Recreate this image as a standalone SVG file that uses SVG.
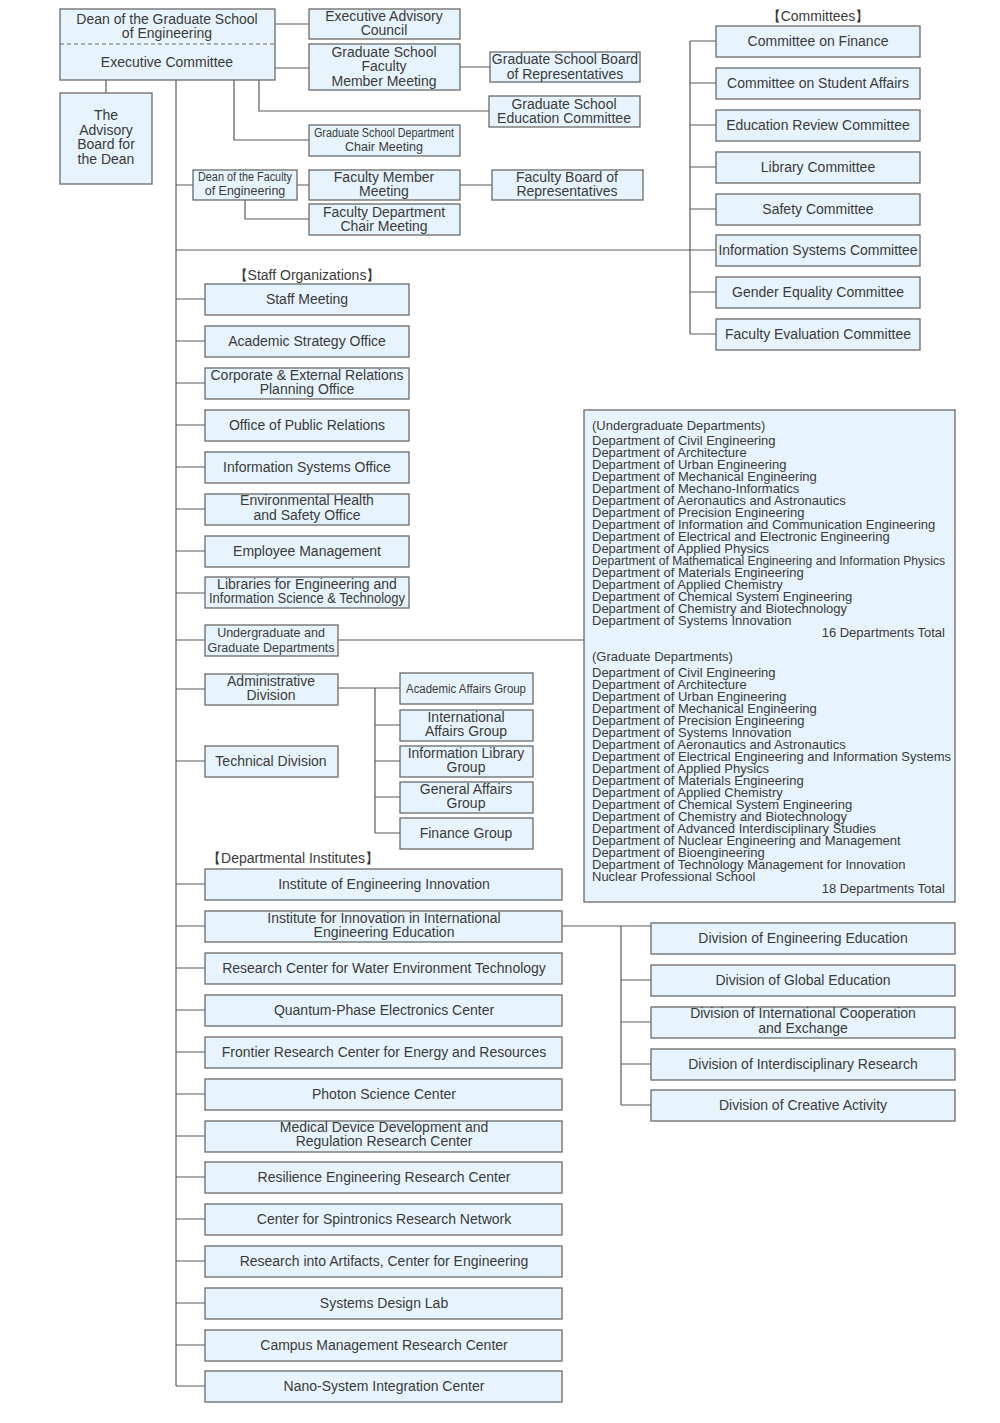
<svg xmlns="http://www.w3.org/2000/svg" width="1000" height="1423" viewBox="0 0 1000 1423">
<style>
.b{fill:#e7f4fd;stroke:#6a6a6a;stroke-width:1.3}
.t{font-family:"Liberation Sans",Arial,sans-serif;font-size:14px;fill:#3a3a3a;text-anchor:middle}
.s{font-size:12.5px}
.d{font-family:"Liberation Sans",Arial,sans-serif;font-size:13px;fill:#3a3a3a}
.c{fill:none;stroke:#5a5a5a;stroke-width:1.2}
</style>
<rect width="1000" height="1423" fill="#ffffff"/>
<g id="connectors" class="c">
<path d="M275,24H309M275,68H309M460,67H490M259,80V111H489M234,80V140H309M106,80V93M176,80V1386"/>
<path d="M176,185H193M297,185H309M460,185H492M245,200V219H309"/>
<path d="M176,250H716M690,41V334M690,41H716M690,83H716M690,125H716M690,167H716M690,209H716M690,292H716M690,334H716"/>
<path d="M176,299H205M176,341H205M176,383H205M176,425H205M176,467H205M176,509H205M176,551H205M176,593H205"/>
<path d="M176,640H205M338,640H584M176,689H205M338,688H400M375,688V833M375,725H400M375,761H400M375,797H400M375,833H400M176,761H205"/>
<path d="M176,884H205M176,926H205M176,968H205M176,1010H205M176,1052H205M176,1094H205M176,1136H205M176,1177H205M176,1219H205M176,1261H205M176,1303H205M176,1345H205M176,1386H205"/>
<path d="M562,926H651M621,926V1105M621,980H651M621,1022H651M621,1064H651M621,1105H651"/>
</g>
<g id="dean">
<rect class="b" x="60" y="9" width="215" height="71"/>
<line x1="60" y1="44" x2="275" y2="44" stroke="#6a6a6a" stroke-width="1.2" stroke-dasharray="4,3"/>
<text class="t" x="167" y="24">Dean of the Graduate School</text>
<text class="t" x="167" y="38">of Engineering</text>
<text class="t" x="167" y="67">Executive Committee</text>
</g>
<g id="exec-advisory"><rect class="b" x="309" y="9" width="151" height="30"/><text class="t" x="384" y="21">Executive Advisory</text><text class="t" x="384" y="35">Council</text></g>
<g id="gs-faculty"><rect class="b" x="309" y="44" width="151" height="46"/><text class="t" x="384" y="57">Graduate School</text><text class="t" x="384" y="71">Faculty</text><text class="t" x="384" y="86">Member Meeting</text></g>
<g id="gs-board"><rect class="b" x="490" y="52" width="150" height="30"/><text class="t" x="565" y="64">Graduate School Board</text><text class="t" x="565" y="79">of Representatives</text></g>
<g id="gs-education"><rect class="b" x="489" y="96" width="151" height="31"/><text class="t" x="564" y="109">Graduate School</text><text class="t" x="564" y="123">Education Committee</text></g>
<g id="gs-chair"><rect class="b" x="309" y="125" width="151" height="31"/><text class="t s" x="384" y="137" textLength="140" lengthAdjust="spacingAndGlyphs">Graduate School Department</text><text class="t s" x="384" y="151">Chair Meeting</text></g>
<g id="advisory-board"><rect class="b" x="60" y="93" width="92" height="91"/><text class="t" x="106" y="120">The</text><text class="t" x="106" y="135">Advisory</text><text class="t" x="106" y="149">Board for</text><text class="t" x="106" y="164">the Dean</text></g>
<g id="dean-faculty"><rect class="b" x="193" y="170" width="104" height="30"/><text class="t s" x="245" y="181" textLength="94" lengthAdjust="spacingAndGlyphs">Dean of the Faculty</text><text class="t s" x="245" y="195">of Engineering</text></g>
<g id="faculty-member"><rect class="b" x="309" y="170" width="151" height="30"/><text class="t" x="384" y="182">Faculty Member</text><text class="t" x="384" y="196">Meeting</text></g>
<g id="faculty-board"><rect class="b" x="492" y="170" width="151" height="30"/><text class="t" x="567" y="182">Faculty Board of</text><text class="t" x="567" y="196">Representatives</text></g>
<g id="faculty-chair"><rect class="b" x="309" y="204" width="151" height="31"/><text class="t" x="384" y="217">Faculty Department</text><text class="t" x="384" y="231">Chair Meeting</text></g>

<text class="t" x="818" y="21">【Committees】</text>
<g id="com-finance"><rect class="b" x="716" y="26" width="204" height="31"/><text class="t" x="818" y="46">Committee on Finance</text></g>
<g id="com-student"><rect class="b" x="716" y="68" width="204" height="31"/><text class="t" x="818" y="88">Committee on Student Affairs</text></g>
<g id="com-education"><rect class="b" x="716" y="110" width="204" height="31"/><text class="t" x="818" y="130">Education Review Committee</text></g>
<g id="com-library"><rect class="b" x="716" y="152" width="204" height="31"/><text class="t" x="818" y="172">Library Committee</text></g>
<g id="com-safety"><rect class="b" x="716" y="194" width="204" height="31"/><text class="t" x="818" y="214">Safety Committee</text></g>
<g id="com-info"><rect class="b" x="716" y="235" width="204" height="31"/><text class="t" x="818" y="255">Information Systems Committee</text></g>
<g id="com-gender"><rect class="b" x="716" y="277" width="204" height="31"/><text class="t" x="818" y="297">Gender Equality Committee</text></g>
<g id="com-evaluation"><rect class="b" x="716" y="319" width="204" height="31"/><text class="t" x="818" y="339">Faculty Evaluation Committee</text></g>

<text class="t" x="307" y="280">【Staff Organizations】</text>
<g id="staff-meeting"><rect class="b" x="205" y="284" width="204" height="31"/><text class="t" x="307" y="304">Staff Meeting</text></g>
<g id="academic-strategy"><rect class="b" x="205" y="326" width="204" height="31"/><text class="t" x="307" y="346">Academic Strategy Office</text></g>
<g id="corporate"><rect class="b" x="205" y="368" width="204" height="31"/><text class="t" x="307" y="380">Corporate &amp; External Relations</text><text class="t" x="307" y="394">Planning Office</text></g>
<g id="public-relations"><rect class="b" x="205" y="410" width="204" height="31"/><text class="t" x="307" y="430">Office of Public Relations</text></g>
<g id="info-systems-office"><rect class="b" x="205" y="452" width="204" height="31"/><text class="t" x="307" y="472">Information Systems Office</text></g>
<g id="env-health"><rect class="b" x="205" y="494" width="204" height="31"/><text class="t" x="307" y="505">Environmental Health</text><text class="t" x="307" y="520">and Safety Office</text></g>
<g id="employee"><rect class="b" x="205" y="536" width="204" height="31"/><text class="t" x="307" y="556">Employee Management</text></g>
<g id="libraries"><rect class="b" x="205" y="577" width="204" height="31"/><text class="t" x="307" y="589">Libraries for Engineering and</text><text class="t" x="307" y="603" textLength="196" lengthAdjust="spacingAndGlyphs">Information Science &amp; Technology</text></g>

<g id="ug-departments"><rect class="b" x="205" y="625" width="133" height="31"/><text class="t s" x="271" y="637">Undergraduate and</text><text class="t s" x="271" y="652">Graduate Departments</text></g>
<g id="admin-division"><rect class="b" x="205" y="674" width="133" height="31"/><text class="t" x="271" y="686">Administrative</text><text class="t" x="271" y="700">Division</text></g>
<g id="technical-division"><rect class="b" x="205" y="746" width="133" height="31"/><text class="t" x="271" y="766">Technical Division</text></g>
<g id="academic-affairs"><rect class="b" x="400" y="673" width="133" height="31"/><text class="t s" x="466" y="693" textLength="120" lengthAdjust="spacingAndGlyphs">Academic Affairs Group</text></g>
<g id="international-affairs"><rect class="b" x="400" y="710" width="133" height="31"/><text class="t" x="466" y="722">International</text><text class="t" x="466" y="736">Affairs Group</text></g>
<g id="info-library"><rect class="b" x="400" y="746" width="133" height="31"/><text class="t" x="466" y="758">Information Library</text><text class="t" x="466" y="772">Group</text></g>
<g id="general-affairs"><rect class="b" x="400" y="782" width="133" height="31"/><text class="t" x="466" y="794">General Affairs</text><text class="t" x="466" y="808">Group</text></g>
<g id="finance-group"><rect class="b" x="400" y="818" width="133" height="31"/><text class="t" x="466" y="838">Finance Group</text></g>

<g id="departments-list">
<rect class="b" x="584" y="410" width="371" height="492"/>
<text class="d" x="592" y="430">(Undergraduate Departments)</text>
<text class="d" x="592" y="445">Department of Civil Engineering</text>
<text class="d" x="592" y="457">Department of Architecture</text>
<text class="d" x="592" y="469">Department of Urban Engineering</text>
<text class="d" x="592" y="481">Department of Mechanical Engineering</text>
<text class="d" x="592" y="493">Department of Mechano-Informatics</text>
<text class="d" x="592" y="505">Department of Aeronautics and Astronautics</text>
<text class="d" x="592" y="517">Department of Precision Engineering</text>
<text class="d" x="592" y="529">Department of Information and Communication Engineering</text>
<text class="d" x="592" y="541">Department of Electrical and Electronic Engineering</text>
<text class="d" x="592" y="553">Department of Applied Physics</text>
<text class="d" x="592" y="565" textLength="353" lengthAdjust="spacingAndGlyphs">Department of Mathematical Engineering and Information Physics</text>
<text class="d" x="592" y="577">Department of Materials Engineering</text>
<text class="d" x="592" y="589">Department of Applied Chemistry</text>
<text class="d" x="592" y="601">Department of Chemical System Engineering</text>
<text class="d" x="592" y="613">Department of Chemistry and Biotechnology</text>
<text class="d" x="592" y="625">Department of Systems Innovation</text>
<text class="d" x="945" y="637" text-anchor="end">16 Departments Total</text>
<text class="d" x="592" y="661">(Graduate Departments)</text>
<text class="d" x="592" y="677">Department of Civil Engineering</text>
<text class="d" x="592" y="689">Department of Architecture</text>
<text class="d" x="592" y="701">Department of Urban Engineering</text>
<text class="d" x="592" y="713">Department of Mechanical Engineering</text>
<text class="d" x="592" y="725">Department of Precision Engineering</text>
<text class="d" x="592" y="737">Department of Systems Innovation</text>
<text class="d" x="592" y="749">Department of Aeronautics and Astronautics</text>
<text class="d" x="592" y="761">Department of Electrical Engineering and Information Systems</text>
<text class="d" x="592" y="773">Department of Applied Physics</text>
<text class="d" x="592" y="785">Department of Materials Engineering</text>
<text class="d" x="592" y="797">Department of Applied Chemistry</text>
<text class="d" x="592" y="809">Department of Chemical System Engineering</text>
<text class="d" x="592" y="821">Department of Chemistry and Biotechnology</text>
<text class="d" x="592" y="833">Department of Advanced Interdisciplinary Studies</text>
<text class="d" x="592" y="845">Department of Nuclear Engineering and Management</text>
<text class="d" x="592" y="857">Department of Bioengineering</text>
<text class="d" x="592" y="869">Department of Technology Management for Innovation</text>
<text class="d" x="592" y="881">Nuclear Professional School</text>
<text class="d" x="945" y="893" text-anchor="end">18 Departments Total</text>
</g>

<text class="t" x="293" y="863">【Departmental Institutes】</text>
<g id="inst-eng-innovation"><rect class="b" x="205" y="869" width="357" height="31"/><text class="t" x="384" y="889">Institute of Engineering Innovation</text></g>
<g id="inst-international"><rect class="b" x="205" y="911" width="357" height="31"/><text class="t" x="384" y="923">Institute for Innovation in International</text><text class="t" x="384" y="937">Engineering Education</text></g>
<g id="water"><rect class="b" x="205" y="953" width="357" height="31"/><text class="t" x="384" y="973">Research Center for Water Environment Technology</text></g>
<g id="quantum"><rect class="b" x="205" y="995" width="357" height="31"/><text class="t" x="384" y="1015">Quantum-Phase Electronics Center</text></g>
<g id="frontier"><rect class="b" x="205" y="1037" width="357" height="31"/><text class="t" x="384" y="1057">Frontier Research Center for Energy and Resources</text></g>
<g id="photon"><rect class="b" x="205" y="1079" width="357" height="31"/><text class="t" x="384" y="1099">Photon Science Center</text></g>
<g id="medical"><rect class="b" x="205" y="1121" width="357" height="31"/><text class="t" x="384" y="1132">Medical Device Development and</text><text class="t" x="384" y="1146">Regulation Research Center</text></g>
<g id="resilience"><rect class="b" x="205" y="1162" width="357" height="31"/><text class="t" x="384" y="1182">Resilience Engineering Research Center</text></g>
<g id="spintronics"><rect class="b" x="205" y="1204" width="357" height="31"/><text class="t" x="384" y="1224">Center for Spintronics Research Network</text></g>
<g id="artifacts"><rect class="b" x="205" y="1246" width="357" height="31"/><text class="t" x="384" y="1266">Research into Artifacts, Center for Engineering</text></g>
<g id="systems-design"><rect class="b" x="205" y="1288" width="357" height="31"/><text class="t" x="384" y="1308">Systems Design Lab</text></g>
<g id="campus"><rect class="b" x="205" y="1330" width="357" height="31"/><text class="t" x="384" y="1350">Campus Management Research Center</text></g>
<g id="nano"><rect class="b" x="205" y="1371" width="357" height="31"/><text class="t" x="384" y="1391">Nano-System Integration Center</text></g>

<g id="div-eng-education"><rect class="b" x="651" y="923" width="304" height="31"/><text class="t" x="803" y="943">Division of Engineering Education</text></g>
<g id="div-global"><rect class="b" x="651" y="965" width="304" height="31"/><text class="t" x="803" y="985">Division of Global Education</text></g>
<g id="div-international"><rect class="b" x="651" y="1007" width="304" height="31"/><text class="t" x="803" y="1018">Division of International Cooperation</text><text class="t" x="803" y="1033">and Exchange</text></g>
<g id="div-interdisciplinary"><rect class="b" x="651" y="1049" width="304" height="31"/><text class="t" x="803" y="1069">Division of Interdisciplinary Research</text></g>
<g id="div-creative"><rect class="b" x="651" y="1090" width="304" height="31"/><text class="t" x="803" y="1110">Division of Creative Activity</text></g>
</svg>
